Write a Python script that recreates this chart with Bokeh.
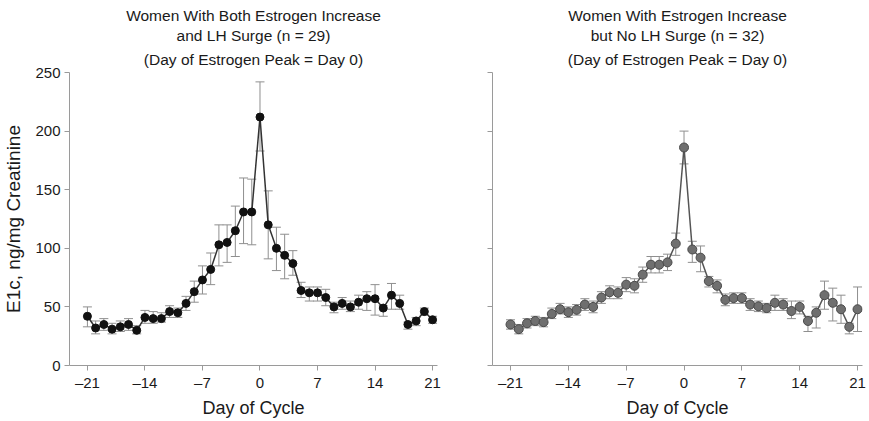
from bokeh.plotting import figure
from bokeh.layouts import row
from bokeh.models import Range1d, Whisker, TeeHead, ColumnDataSource, FixedTicker, Title
from bokeh.embed import file_html
from bokeh.resources import INLINE

# Day of cycle relative to the estrogen peak (day 0)
days = list(range(-21, 22))

# Women with both estrogen increase and LH surge (n = 29)
surge_mean = [42, 32, 35, 31, 33, 35, 30, 41, 40, 40, 46, 45, 53, 63, 73, 82, 103, 105, 115, 131, 131,
              212, 120, 100, 94, 87, 64, 62, 62, 58, 50, 53, 50, 54, 57, 57, 49, 60, 53, 35, 38, 46, 39]
surge_upper = [50, 38, 40, 36, 38, 40, 34, 47, 46, 45, 51, 49, 59, 72, 85, 96, 120, 120, 136, 160, 159,
               242, 149, 118, 112, 98, 71, 67, 67, 65, 54, 58, 55, 60, 63, 69, 51, 70, 60, 37, 41, 49, 42]
surge_lower = [33, 27, 30, 27, 29, 30, 27, 36, 36, 37, 41, 41, 47, 54, 61, 69, 85, 88, 93, 104, 103,
               183, 91, 81, 74, 77, 58, 55, 55, 51, 45, 48, 46, 48, 47, 43, 42, 48, 48, 31, 34, 43, 36]

# Women with estrogen increase but no LH surge (n = 32)
nosurge_mean = [35, 31, 36, 38, 37, 44, 48, 45.5, 47.5, 52, 50, 58, 62.5, 62, 69, 68, 77.5, 86, 86, 88, 104,
                186, 99, 92, 72, 68, 56, 57.5, 57.5, 52, 50.5, 49, 53.5, 52, 46.5, 50, 38, 45, 60, 53.5, 48, 33, 48]
nosurge_upper = [39, 35, 40, 42, 41, 49, 53, 50, 52, 57, 55, 63, 68, 67, 75, 74, 84, 93, 93, 95, 113,
                 200, 106, 102, 76, 73, 61, 62, 62, 57, 55, 53, 60, 57, 55, 55, 42, 50, 72, 66, 60, 36, 67]
nosurge_lower = [31, 27, 32, 34, 33, 40, 44, 41, 43, 47, 45, 53, 57, 57, 63, 62, 71, 79, 79, 81, 94,
                 172, 88, 80, 67, 62, 51, 53, 53, 47, 46, 45, 47, 47, 40, 44, 29, 32, 48, 38, 36, 27, 29]

x_ticks = [-21, -14, -7, 0, 7, 14, 21]
x_tick_labels = ["\u201321", "\u201314", "\u20137", "0", "7", "14", "21"]
y_ticks = [0, 50, 100, 150, 200, 250]

surge_title = ["Women With Both Estrogen Increase", "and LH Surge (n = 29)",
               "(Day of Estrogen Peak = Day 0)"]
nosurge_title = ["Women With Estrogen Increase", "but No LH Surge (n = 32)",
                 "(Day of Estrogen Peak = Day 0)"]
x_label = "Day of Cycle"
y_label = "E1c, ng/mg Creatinine"

FONT = "'Liberation Sans', Arial, Helvetica, sans-serif"
AXIS_GREY = "#9a9a9a"
ERR_GREY = "#8f8f8f"
TEXT = "#1a1a1a"


def style_title(t, text, standoff):
    t.text = text
    t.align = "center"
    t.text_font = FONT
    t.text_font_size = "15.5px"
    t.text_font_style = "normal"
    t.text_color = TEXT
    t.standoff = standoff


def panel(mean, upper, lower, title_lines, width, border_left, border_right,
          show_y_labels, marker_fill, marker_line, line_color, marker_size):
    p = figure(width=width, height=421,
               x_range=Range1d(-23.18, 21.6), y_range=Range1d(0, 250),
               output_backend="svg", toolbar_location=None,
               min_border_left=border_left, min_border_right=border_right,
               min_border_top=72, min_border_bottom=56)
    p.outline_line_color = None
    p.grid.visible = False
    p.background_fill_color = "white"
    p.border_fill_color = "white"

    # heading: the built-in title is the top line; the rest stack down towards the frame
    style_title(p.title, title_lines[0], 2)
    for i, line in reversed(list(enumerate(title_lines[1:], start=1))):
        t = Title()
        style_title(t, line, 9 if i == len(title_lines) - 1 else 1)
        p.add_layout(t, "above")

    src = ColumnDataSource(dict(x=days, y=mean, upper=upper, lower=lower))

    # error bars drawn beneath the line and markers
    whisk = Whisker(base="x", upper="upper", lower="lower", source=src, level="underlay",
                    line_color=ERR_GREY, line_width=1,
                    upper_head=TeeHead(size=9, line_color=ERR_GREY, line_width=1),
                    lower_head=TeeHead(size=9, line_color=ERR_GREY, line_width=1))
    p.add_layout(whisk)

    p.line("x", "y", source=src, line_color=line_color, line_width=1.5)
    p.scatter("x", "y", source=src, size=marker_size, fill_color=marker_fill,
              line_color=marker_line, line_width=1)

    # axes
    p.xaxis.ticker = FixedTicker(ticks=x_ticks)
    p.xaxis.major_label_overrides = {t: s for t, s in zip(x_ticks, x_tick_labels)}
    p.yaxis.ticker = FixedTicker(ticks=y_ticks)
    for ax in (p.xaxis, p.yaxis):
        ax.axis_line_color = AXIS_GREY
        ax.axis_line_width = 1
        ax.major_tick_line_color = AXIS_GREY
        ax.major_tick_out = 5
        ax.major_tick_in = 0
        ax.minor_tick_line_color = None
        ax.major_label_text_font = FONT
        ax.major_label_text_font_size = "15px"
        ax.major_label_text_color = TEXT
        ax.axis_label_text_font = FONT
        ax.axis_label_text_font_style = "normal"
        ax.axis_label_text_color = TEXT
    p.xaxis.major_label_standoff = 3
    p.yaxis.major_label_standoff = 4
    p.xaxis.axis_label = x_label
    p.xaxis.axis_label_text_font_size = "18px"
    p.xaxis.axis_label_standoff = 4
    if show_y_labels:
        p.yaxis.axis_label = y_label
        p.yaxis.axis_label_text_font_size = "19px"
        p.yaxis.axis_label_standoff = 8
    else:
        p.yaxis.major_label_overrides = {t: "" for t in y_ticks}
    return p


left = panel(surge_mean, surge_upper, surge_lower, surge_title, 445, 67, 8,
             True, "#111111", "#111111", "#333333", 8)
right = panel(nosurge_mean, nosurge_upper, nosurge_lower, nosurge_title, 424, 47, 7,
              False, "#6f6f6f", "#4a4a4a", "#555555", 9)

layout = row(left, right)
open("out.html", "w").write(file_html(layout, INLINE))
